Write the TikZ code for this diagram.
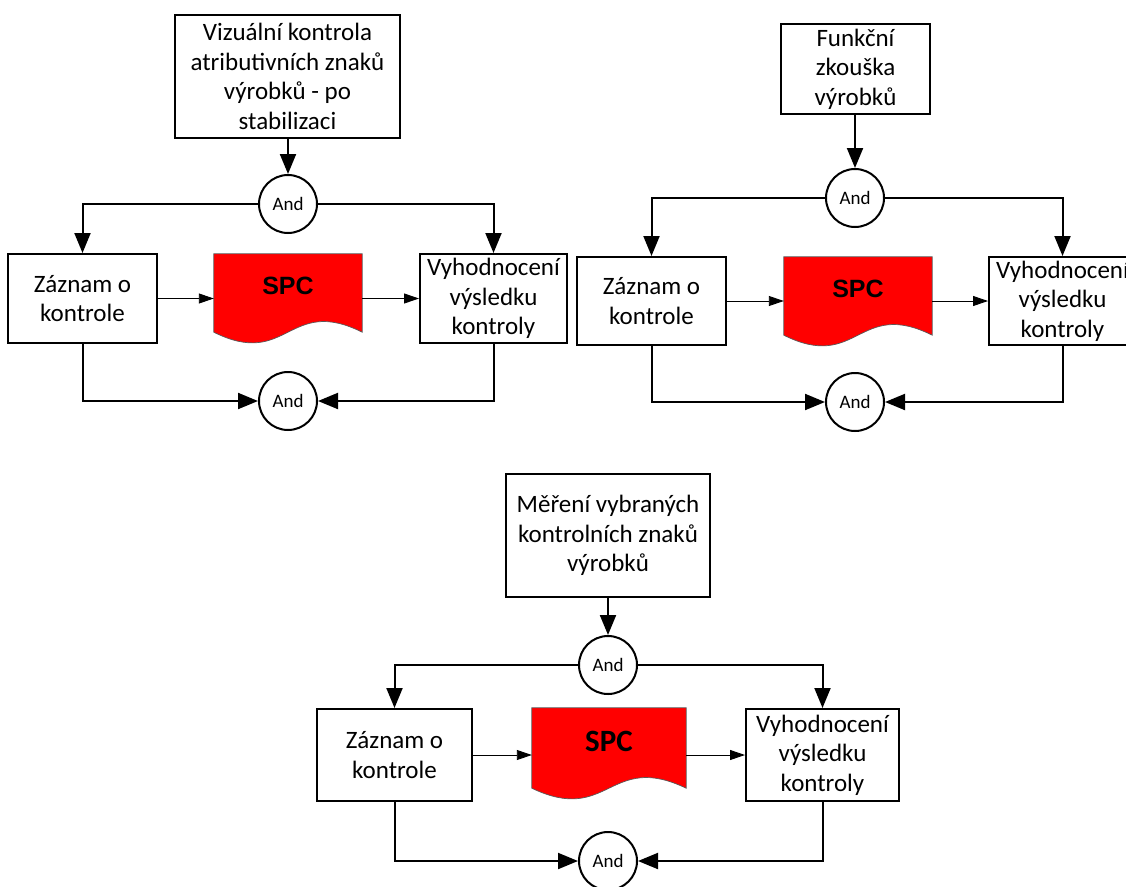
\documentclass[tikz,border=0pt]{standalone}
\usepackage{fontspec}
\setmainfont{Carlito}
\newfontfamily\arialfont{Liberation Sans}
\usetikzlibrary{arrows.meta,calc}

% document-shaped SPC sheet drawn over a named rectangular area
\newcommand\spcdoc[1]{%
  \filldraw[spcsheet] (#1.north west) -- (#1.north east) -- (#1.south east)
    .. controls ($(#1.south)+(0,-37)$) and ($(#1.south)+(0,37)$) .. (#1.south west) -- cycle;}

\begin{document}
\begin{tikzpicture}[x=1pt,y=-1pt,
  box/.style={draw,line width=2pt,rectangle,inner sep=0pt,align=center,
    font=\fontsize{25}{29.5}\selectfont},
  andnode/.style={draw,line width=2pt,circle,fill=white,minimum size=58pt,
    inner sep=0pt,font=\fontsize{19}{21}\selectfont},
  spcarea/.style={rectangle,inner sep=0pt},
  spcsheet/.style={fill={rgb,255:red,255;green,0;blue,0},draw=black!65,line width=0.7pt},
  spcarial/.style={anchor=base,inner sep=0pt,font=\arialfont\bfseries\fontsize{25}{28}\selectfont},
  spccalibri/.style={anchor=base,inner sep=0pt,font=\bfseries\fontsize{31}{34}\selectfont},
  flow/.style={line width=2pt,-{Triangle[length=20pt,width=16pt]}},
  link/.style={line width=0.9pt,-{Triangle[length=15pt,width=10pt]}}
]
\useasboundingbox (0,0) rectangle (1126,886);

% ---------- visual inspection ----------
\node[box,minimum width=225pt,minimum height=123pt] (T1) at (287.5,76.5)
  {Vizuální kontrola\\atributivních znaků\\výrobků - po\\stabilizaci};
\node[andnode] (A1) at (288,204) {And};
\node[box,minimum width=149pt,minimum height=89pt] (L1) at (82.5,298.5) {Záznam o\\kontrole};
\node[spcarea,minimum width=148pt,minimum height=78pt] (S1) at (288,293) {};
\spcdoc{S1}
\node[spcarial] (S1t) at ($(S1.north)+(0,41)$) {SPC};
\node[box,minimum width=147pt,minimum height=89pt] (R1) at (493.5,298.5) {Vyhodnocení\\výsledku\\kontroly};
\node[andnode] (B1) at (288,401) {And};

\draw[flow] (T1.south -| A1.north) -- (A1.north);
\draw[flow] (A1.west) -| (L1.north);
\draw[flow] (A1.east) -| (R1.north);
\draw[link] (L1.east) -- (L1.east -| S1.west);
\draw[link] (R1.west -| S1.east) -- (R1.west);
\draw[flow] (L1.south) |- (B1.west);
\draw[flow] (R1.south) |- (B1.east);

% ---------- functional test ----------
\node[box,minimum width=149pt,minimum height=90pt] (T2) at (855.5,69) {Funkční\\zkouška\\výrobků};
\node[andnode] (A2) at (855,198) {And};
\node[box,minimum width=149pt,minimum height=88pt] (L2) at (651.5,301) {Záznam o\\kontrole};
\node[spcarea,minimum width=148pt,minimum height=78pt] (S2) at (858,296) {};
\spcdoc{S2}
\node[spcarial] (S2t) at ($(S2.north)+(0,41)$) {SPC};
\node[box,minimum width=147pt,minimum height=88pt] (R2) at (1062.5,301) {Vyhodnocení\\výsledku\\kontroly};
\node[andnode] (B2) at (855,402) {And};

\draw[flow] (T2.south -| A2.north) -- (A2.north);
\draw[flow] (A2.west) -| (L2.north);
\draw[flow] (A2.east) -| (R2.north);
\draw[link] (L2.east) -- (L2.east -| S2.west);
\draw[link] (R2.west -| S2.east) -- (R2.west);
\draw[flow] (L2.south) |- (B2.west);
\draw[flow] (R2.south) |- (B2.east);

% ---------- measurement ----------
\node[box,minimum width=204pt,minimum height=123pt] (T3) at (608,535.5)
  {Měření vybraných\\kontrolních znaků\\výrobků};
\node[andnode] (A3) at (608,665) {And};
\node[box,minimum width=155pt,minimum height=92pt] (L3) at (394.5,755) {Záznam o\\kontrole};
\node[spcarea,minimum width=154pt,minimum height=80pt] (S3) at (609,748) {};
\spcdoc{S3}
\node[spccalibri] (S3t) at ($(S3.north)+(0,44)$) {SPC};
\node[box,minimum width=153pt,minimum height=92pt] (R3) at (822.5,755) {Vyhodnocení\\výsledku\\kontroly};
\node[andnode] (B3) at (608,861) {And};

\draw[flow] (T3.south -| A3.north) -- (A3.north);
\draw[flow] (A3.west) -| (L3.north);
\draw[flow] (A3.east) -| (R3.north);
\draw[link] (L3.east) -- (L3.east -| S3.west);
\draw[link] (R3.west -| S3.east) -- (R3.west);
\draw[flow] (L3.south) |- (B3.west);
\draw[flow] (R3.south) |- (B3.east);
\end{tikzpicture}
\end{document}
